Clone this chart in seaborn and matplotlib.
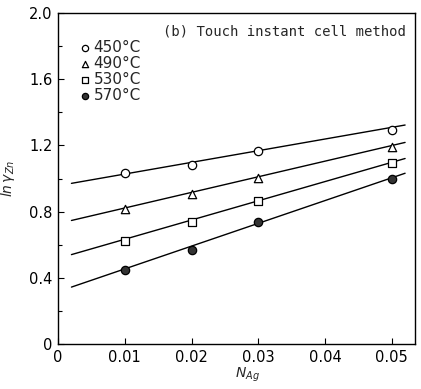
import numpy as np
import pandas as pd
import matplotlib
matplotlib.use("Agg")
import matplotlib.pyplot as plt
import seaborn as sns

# ---- data ----
n_ag = [0.01, 0.02, 0.03, 0.05]
temps = ["450°C", "490°C", "530°C", "570°C"]
ln_gamma_450 = [1.032, 1.081, 1.167, 1.293]
ln_gamma_490 = [0.818, 0.905, 1.006, 1.188]
ln_gamma_530 = [0.624, 0.737, 0.864, 1.091]
ln_gamma_570 = [0.450, 0.567, 0.737, 0.996]

# fitted straight lines (end values)
fit_x = [0.002, 0.052]
fit_450 = [0.971, 1.323]
fit_490 = [0.747, 1.218]
fit_530 = [0.541, 1.121]
fit_570 = [0.345, 1.032]

series = [ln_gamma_450, ln_gamma_490, ln_gamma_530, ln_gamma_570]
fits = [fit_450, fit_490, fit_530, fit_570]

pts = pd.DataFrame({
    "N": np.tile(n_ag, len(temps)),
    "lng": np.concatenate(series),
    "T": np.repeat(temps, len(n_ag)),
})
lines = pd.DataFrame({
    "N": np.tile(fit_x, len(temps)),
    "lng": np.concatenate(fits),
    "T": np.repeat(temps, len(fit_x)),
})

sns.set_theme(style="ticks")
plt.rcParams["font.family"] = ["DejaVu Sans"]

fig = plt.figure(figsize=(4.21, 3.89), dpi=100)
ax = fig.add_axes([0.138, 0.115, 0.848, 0.852])

sns.lineplot(data=lines, x="N", y="lng", units="T", estimator=None,
             color="black", lw=1.0, ax=ax, legend=False)

markers = {"450°C": "o", "490°C": "^", "530°C": "s", "570°C": "o"}
face = {"450°C": "white", "490°C": "white", "530°C": "white", "570°C": "#333333"}
for t in temps:
    sub = pts[pts["T"] == t]
    sns.scatterplot(data=sub, x="N", y="lng", marker=markers[t], s=36,
                    facecolor=face[t], edgecolor="black", linewidth=0.9,
                    ax=ax, label=t, zorder=3)

ax.set_xlim(0, 0.0535)
ax.set_ylim(0, 2.0)
ax.set_xticks([0, 0.01, 0.02, 0.03, 0.04, 0.05])
ax.set_xticklabels(["0", "0.01", "0.02", "0.03", "0.04", "0.05"])
ax.set_yticks([0, 0.4, 0.8, 1.2, 1.6, 2.0])
ax.set_yticklabels(["0", "0.4", "0.8", "1.2", "1.6", "2.0"])
ax.set_yticks([0.2, 0.6, 1.0, 1.4, 1.8], minor=True)
ax.tick_params(axis="both", which="both", direction="in", labelsize=10.5,
               colors="black", pad=4)
ax.tick_params(which="major", length=4, width=0.8)
ax.tick_params(which="minor", length=3, width=0.8)
for sp in ax.spines.values():
    sp.set_color("black")
    sp.set_linewidth(1.0)

ax.set_xlabel(r"$N_{Ag}$", fontsize=10)
ax.xaxis.set_label_coords(0.53, -0.065)
ax.set_ylabel(r"$ln\,\gamma_{Zn}$", fontsize=10)
ax.yaxis.set_label_coords(-0.115, 0.5)

ax.text(0.975, 0.965, "(b) Touch instant cell method", transform=ax.transAxes,
        ha="right", va="top", fontsize=10, family="DejaVu Sans Mono")

leg = ax.legend(loc="upper left", bbox_to_anchor=(0.035, 0.935), frameon=False,
                handletextpad=0.0, labelspacing=0.05, borderaxespad=0.0,
                fontsize=11, handlelength=1.1, markerscale=0.75)

fig.savefig("out.png", dpi=100, facecolor="white")
